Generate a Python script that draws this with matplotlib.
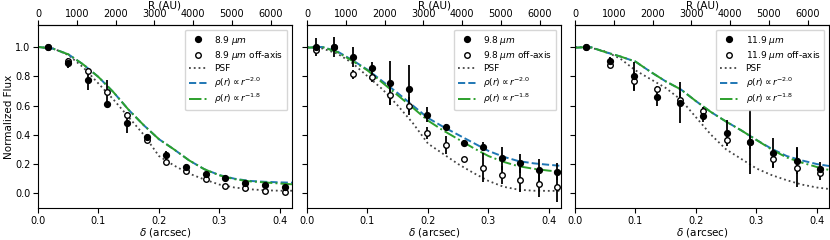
import numpy as np
import matplotlib.pyplot as plt

AU_PER_ARCSEC = 15600

wavelengths = ["8.9", "9.8", "11.9"]

# radial profiles (on-axis = filled, off-axis = open)
delta_89 = [0.017, 0.049, 0.082, 0.114, 0.147, 0.180, 0.212, 0.245, 0.278, 0.310, 0.343, 0.375, 0.408]
flux_89 = [1.0, 0.888, 0.775, 0.61, 0.478, 0.387, 0.263, 0.183, 0.134, 0.103, 0.074, 0.057, 0.042]
err_89 = [0.01, 0.03, 0.07, 0.02, 0.065, 0.02, 0.025, 0.015, 0.01, 0.01, 0.01, 0.01, 0.01]
off_89 = [1.0, 0.904, 0.835, 0.695, 0.533, 0.366, 0.216, 0.156, 0.095, 0.051, 0.034, 0.019, 0.012]
off_err_89 = [0.01, 0.02, 0.02, 0.08, 0.02, 0.02, 0.02, 0.01, 0.01, 0.01, 0.01, 0.01, 0.01]

delta_98 = [0.015, 0.045, 0.076, 0.107, 0.138, 0.168, 0.199, 0.230, 0.260, 0.291, 0.322, 0.352, 0.383, 0.414]
flux_98 = [1.0, 1.0, 0.931, 0.854, 0.755, 0.714, 0.538, 0.451, 0.343, 0.32, 0.24, 0.206, 0.16, 0.148]
err_98 = [0.06, 0.07, 0.07, 0.045, 0.15, 0.16, 0.05, 0.02, 0.02, 0.03, 0.08, 0.065, 0.075, 0.06]
off_98 = [0.982, 1.0, 0.812, 0.794, 0.673, 0.595, 0.41, 0.332, 0.233, 0.176, 0.126, 0.091, 0.062, 0.041]
off_err_98 = [0.02, 0.02, 0.03, 0.03, 0.07, 0.06, 0.04, 0.06, 0.01, 0.1, 0.06, 0.08, 0.09, 0.1]

delta_119 = [0.019, 0.058, 0.097, 0.135, 0.174, 0.212, 0.251, 0.290, 0.328, 0.367, 0.405]
flux_119 = [1.0, 0.904, 0.80, 0.66, 0.618, 0.526, 0.412, 0.35, 0.279, 0.224, 0.165]
err_119 = [0.01, 0.03, 0.1, 0.06, 0.14, 0.04, 0.09, 0.22, 0.1, 0.09, 0.05]
off_119 = [1.0, 0.876, 0.767, 0.71, 0.64, 0.56, 0.366, 0.35, 0.236, 0.176, 0.137]
off_err_119 = [0.01, 0.02, 0.06, 0.02, 0.05, 0.03, 0.03, 0.05, 0.06, 0.135, 0.045]

# PSF and model curves, sampled by eye
curve_delta = [0, 0.025, 0.05, 0.075, 0.1, 0.125, 0.15, 0.175, 0.2, 0.225,
               0.25, 0.275, 0.3, 0.325, 0.35, 0.375, 0.4, 0.42]

psf_89 = [1.0, 0.99, 0.945, 0.86, 0.75, 0.64, 0.52, 0.4, 0.255, 0.19,
          0.135, 0.095, 0.06, 0.04, 0.028, 0.021, 0.018, 0.018]
m20_89 = [1.0, 0.988, 0.95, 0.88, 0.795, 0.69, 0.57, 0.465, 0.37, 0.3,
          0.225, 0.165, 0.125, 0.1, 0.085, 0.079, 0.075, 0.073]
m18_89 = [1.0, 0.988, 0.95, 0.88, 0.795, 0.69, 0.57, 0.465, 0.37, 0.3,
          0.225, 0.165, 0.123, 0.097, 0.082, 0.075, 0.067, 0.062]

psf_98 = [1.0, 0.99, 0.955, 0.89, 0.8, 0.71, 0.6, 0.48, 0.34, 0.27,
          0.2, 0.14, 0.085, 0.045, 0.025, 0.018, 0.017, 0.017]
m20_98 = [0.995, 1.0, 0.97, 0.91, 0.845, 0.765, 0.685, 0.6, 0.515, 0.455,
          0.4, 0.345, 0.29, 0.25, 0.22, 0.205, 0.195, 0.188]
m18_98 = [0.995, 1.0, 0.965, 0.905, 0.84, 0.755, 0.67, 0.585, 0.497, 0.43,
          0.37, 0.31, 0.255, 0.215, 0.185, 0.168, 0.155, 0.148]

psf_119 = [1.0, 0.995, 0.97, 0.92, 0.84, 0.78, 0.72, 0.64, 0.52, 0.4,
           0.3, 0.235, 0.17, 0.125, 0.09, 0.06, 0.04, 0.03]
m20_119 = [0.995, 1.0, 0.965, 0.935, 0.9, 0.83, 0.765, 0.71, 0.63, 0.555,
           0.49, 0.43, 0.365, 0.305, 0.255, 0.225, 0.2, 0.187]
m18_119 = [0.995, 1.0, 0.965, 0.935, 0.9, 0.83, 0.765, 0.71, 0.63, 0.555,
           0.49, 0.43, 0.365, 0.3, 0.245, 0.21, 0.18, 0.16]

panels = [
    (delta_89, flux_89, err_89, off_89, off_err_89, psf_89, m20_89, m18_89),
    (delta_98, flux_98, err_98, off_98, off_err_98, psf_98, m20_98, m18_98),
    (delta_119, flux_119, err_119, off_119, off_err_119, psf_119, m20_119, m18_119),
]


def main():
    fig = plt.figure(figsize=(8.3, 2.4), dpi=100)
    lefts_px = [38, 307, 575]

    for i, (lam, data) in enumerate(zip(wavelengths, panels)):
        x, y, yerr, y_off, yerr_off, psf, m20, m18 = data
        ax = fig.add_axes([lefts_px[i] / 830, 32 / 240, 254 / 830, 183 / 240])

        ax.plot(curve_delta, psf, ':', color='#444444', lw=1.3, label='PSF', zorder=2)
        ax.plot(curve_delta, m20, '--', color='#1f77b4', lw=1.4,
                label=r'$\rho(r) \propto r^{-2.0}$', zorder=2)
        ax.plot(curve_delta, m18, '-.', color='#2ca02c', lw=1.4,
                label=r'$\rho(r) \propto r^{-1.8}$', zorder=2)

        ax.errorbar(x, y, yerr=yerr, fmt='none', ecolor='k', elinewidth=1.3, zorder=3)
        ax.errorbar(x, y_off, yerr=yerr_off, fmt='none', ecolor='k', elinewidth=1.3, zorder=3)
        ax.plot(x, y_off, 'o', mfc='white', mec='k', mew=1.0, ms=4, ls='none', zorder=4,
                label=lam + r' $\mu m$ off-axis')
        ax.plot(x, y, 'o', color='k', ms=4.2, ls='none', zorder=5,
                label=lam + r' $\mu m$')

        ax.set_xlim(0, 0.42)
        ax.set_ylim(-0.1, 1.15)
        ax.set_xticks([0.0, 0.1, 0.2, 0.3, 0.4])
        ax.set_yticks([0.0, 0.2, 0.4, 0.6, 0.8, 1.0])
        ax.tick_params(labelsize=7, pad=2)
        ax.set_xlabel(r'$\delta$ (arcsec)', fontsize=7.5, labelpad=0)
        if i == 0:
            ax.set_ylabel('Normalized Flux', fontsize=7.5, labelpad=1)
        else:
            ax.set_yticklabels([])

        top = ax.secondary_xaxis('top', functions=(lambda d: d * AU_PER_ARCSEC,
                                                   lambda r: r / AU_PER_ARCSEC))
        top.set_xticks([0, 1000, 2000, 3000, 4000, 5000, 6000])
        top.tick_params(labelsize=7, pad=1)
        top.set_xlabel('R (AU)', fontsize=7.5, labelpad=0.5)

        handles, labels = ax.get_legend_handles_labels()
        order = [4, 3, 0, 1, 2]
        ax.legend([handles[k] for k in order], [labels[k] for k in order],
                  loc='upper right', fontsize=6.5, labelspacing=0.25,
                  borderpad=0.45)

    fig.savefig('out.png', dpi=100)


if __name__ == "__main__":
    main()
